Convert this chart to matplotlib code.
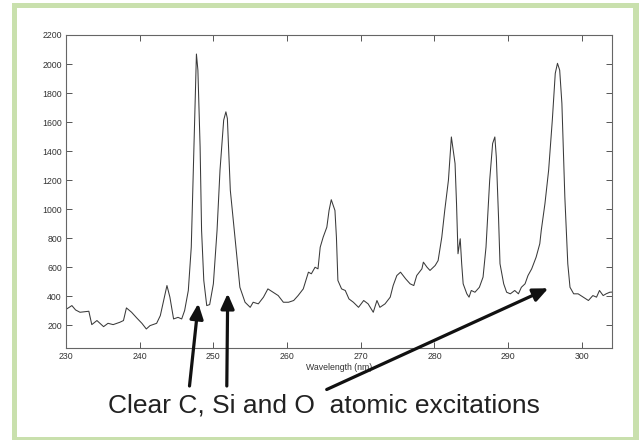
import matplotlib
matplotlib.use("Agg")
import matplotlib.pyplot as plt
from matplotlib.patches import Rectangle, FancyArrowPatch

wavelength = [230.1, 230.8, 231.3, 231.9, 233.1, 233.5, 234.2, 235.1, 235.7, 236.4,
              237.3, 237.8, 238.2, 238.9, 239.6, 240.3, 240.9, 241.4, 242.3, 242.8,
              243.7, 244.1, 244.6, 245.2, 245.7, 246.1, 246.6, 247.0, 247.3, 247.6,
              247.7, 247.9, 248.2, 248.4, 248.7, 249.1, 249.5, 250.0, 250.5, 250.9,
              251.4, 251.7, 251.9, 252.3, 252.7, 253.2, 253.6, 254.3, 255.0, 255.4,
              256.1, 256.8, 257.4, 258.1, 258.8, 259.5, 260.2, 260.9, 261.5, 262.2,
              262.9, 263.3, 263.8, 264.2, 264.5, 264.9, 265.4, 265.7, 266.0, 266.5,
              266.7, 266.9, 267.4, 267.9, 268.4, 269.0, 269.7, 270.4, 271.0, 271.7,
              272.2, 272.6, 273.3, 274.0, 274.4, 274.9, 275.4, 276.1, 276.7, 277.2,
              277.6, 278.3, 278.5, 279.0, 279.4, 280.1, 280.5, 281.0, 281.4, 281.9,
              282.3, 282.8, 283.0, 283.2, 283.5, 283.7, 283.9, 284.4, 284.7, 285.0,
              285.5, 286.1, 286.6, 287.0, 287.5, 287.9, 288.2, 288.4, 288.7, 288.9,
              289.4, 289.8, 290.3, 290.9, 291.4, 291.8, 292.3, 292.7, 293.2, 293.8,
              294.3, 294.5, 295.0, 295.5, 296.0, 296.4, 296.7, 297.0, 297.3, 297.7,
              298.1, 298.4, 298.9, 299.5, 300.2, 300.9, 301.5, 302.0, 302.4, 302.9,
              303.3, 303.8, 304.1]
intensity = [314, 337, 307, 291, 298, 206, 234, 192, 215, 206,
             222, 234, 321, 291, 252, 215, 176, 199, 215, 268,
             475, 395, 245, 256, 245, 303, 441, 739, 1315, 1890,
             2069, 1958, 1429, 855, 510, 337, 344, 487, 855, 1269,
             1614, 1671, 1625, 1131, 924, 670, 463, 360, 325, 360,
             349, 395, 452, 429, 406, 360, 360, 372, 406, 452,
             567, 556, 601, 590, 739, 808, 877, 992, 1066, 992,
             808, 510, 452, 441, 383, 360, 325, 372, 349, 291,
             372, 325, 349, 395, 475, 544, 567, 521, 487, 475,
             544, 590, 636, 601, 579, 613, 647, 808, 992, 1200,
             1498, 1315, 1039, 694, 797, 625, 487, 418, 395, 441,
             429, 463, 533, 739, 1200, 1453, 1498, 1360, 946, 625,
             487, 429, 418, 441, 418, 463, 487, 544, 590, 670,
             763, 855, 1039, 1269, 1614, 1936, 2005, 1958, 1729, 1084,
             625, 463, 418, 418, 395, 372, 406, 395, 441, 406,
             418, 429, 430]

x_ticks = [230, 240, 250, 260, 270, 280, 290, 300]
y_ticks = [200, 400, 600, 800, 1000, 1200, 1400, 1600, 1800, 2000, 2200]
x_label = "Wavelength (nm)"
caption = "Clear C, Si and O  atomic excitations"

W, H = 639, 440
fig = plt.figure(figsize=(W / 100, H / 100), dpi=100)
fig.patch.set_facecolor("white")

def fx(px):
    return px / W

def fy(py):
    return 1 - py / H

green = "#c9e0ad"
fig.patches.append(Rectangle((fx(12), fy(440)), fx(639) - fx(12), fy(3) - fy(440),
                             transform=fig.transFigure, facecolor=green, edgecolor="none", zorder=-3))
fig.patches.append(Rectangle((fx(16.5), fy(436.5)), fx(633) - fx(16.5), fy(8) - fy(436.5),
                             transform=fig.transFigure, facecolor="white", edgecolor="none", zorder=-2))

ax = fig.add_axes([fx(66), fy(348), fx(612) - fx(66), fy(35) - fy(348)])
ax.set_zorder(1)
ax.set_facecolor("white")
ax.plot(wavelength, intensity, color="#3a3a3a", lw=0.75)
ax.set_xlim(230, 304.1)
ax.set_ylim(45, 2200)
ax.set_xticks(x_ticks)
ax.set_yticks(y_ticks)
ax.tick_params(direction="in", length=4, width=0.7, colors="#555555",
               labelcolor="#333333", labelsize=6.3, top=True, right=True, pad=3)
for lab in ax.get_xticklabels() + ax.get_yticklabels():
    lab.set_family("Liberation Sans")
for s in ax.spines.values():
    s.set_color("#666666")
    s.set_linewidth(0.8)
ax.set_xlabel(x_label, fontsize=6.3, family="Liberation Sans", color="#333333", labelpad=1)

fig.text(fx(324), fy(412), caption, ha="center", va="baseline",
         fontsize=19, family="Liberation Sans", color="#222222", zorder=5)

arrows = [((189.5, 386), (198.3, 303.5)),
          ((226.8, 386), (227.7, 293.5)),
          ((326.7, 389.5), (548.3, 288.3))]
for (x0, y0), (x1, y1) in arrows:
    a = FancyArrowPatch((fx(x0), fy(y0)), (fx(x1), fy(y1)), transform=fig.transFigure,
                        arrowstyle="-|>,head_length=0.9,head_width=0.4", mutation_scale=10,
                        lw=2.3, color="#111111", shrinkA=0, shrinkB=0, zorder=6)
    fig.patches.append(a)

fig.savefig("out.png", dpi=100)
